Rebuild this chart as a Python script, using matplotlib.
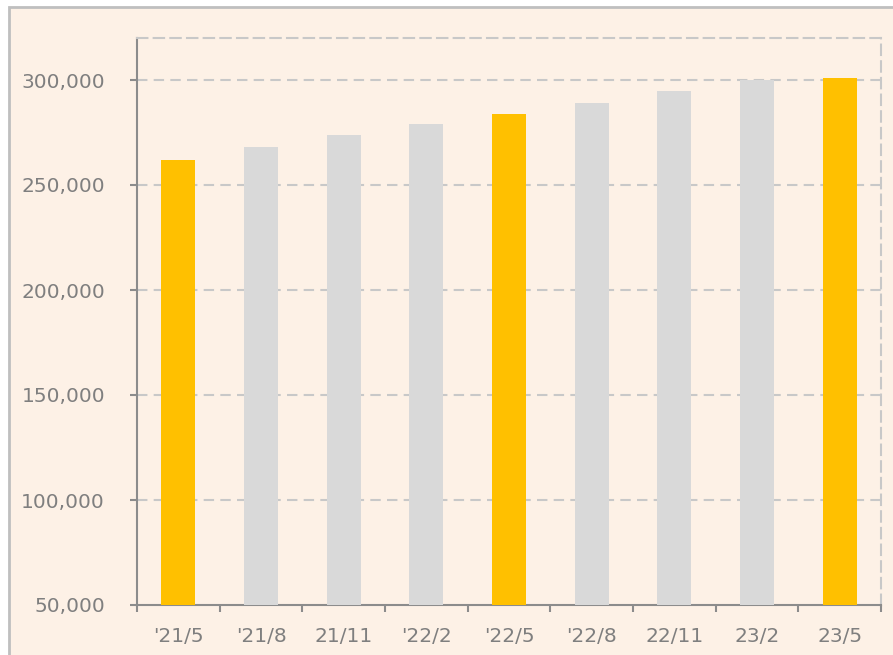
import matplotlib.pyplot as plt
from matplotlib.patches import Rectangle
from matplotlib.ticker import FuncFormatter, FixedLocator

# ── data ─────────────────────────────────────────────────────────────────────
periods = ["'21/5", "'21/8", "21/11", "'22/2", "'22/5", "'22/8", "22/11", "23/2", "23/5"]
values  = [262000, 268000, 274000, 279000, 284000, 289000, 295000, 300000, 301000]
highlight = [True, False, False, False, True, False, False, False, True]

# ── palette ──────────────────────────────────────────────────────────────────
BG     = "#FDF1E6"
ORANGE = "#FFC000"
GREY   = "#D9D9D9"
AXIS   = "#8C8C8C"
GRID   = "#C8C8C8"
TEXT   = "#7F7F7F"
FRAME  = "#BFBFBF"

W, H = 893, 655
fig = plt.figure(figsize=(W / 100, H / 100), dpi=100, facecolor="white")

# outer panel (top + left border only visible)
fig.add_artist(Rectangle((9 / W, -0.05), 1.2, (H - 7) / H + 0.05,
                         transform=fig.transFigure, fc=BG, ec=FRAME, lw=2, zorder=0))

ax = fig.add_axes([137 / W, (H - 605) / H, (881 - 137) / W, (605 - 38) / H])
ax.set_facecolor("none")

x = range(len(periods))
colors = [ORANGE if h else GREY for h in highlight]
ax.bar(x, values, width=0.41, color=colors, zorder=3)

ax.set_xlim(-0.5, len(periods) - 0.5)
ax.set_ylim(50000, 320000)

# y axis
ax.set_yticks([50000, 100000, 150000, 200000, 250000, 300000])
ax.yaxis.set_major_formatter(FuncFormatter(lambda v, p: f"{int(v):,}"))
ax.tick_params(axis="y", length=5, width=1.5, color=AXIS, labelcolor=TEXT,
               labelsize=14.5, pad=18)

# x axis: ticks at boundaries, labels at centres
ax.xaxis.set_major_locator(FixedLocator([i - 0.5 for i in range(len(periods) + 1)]))
ax.xaxis.set_major_formatter(FuncFormatter(lambda v, p: ""))
ax.xaxis.set_minor_locator(FixedLocator(list(x)))
ax.set_xticklabels(periods, minor=True)
ax.tick_params(axis="x", which="major", length=5, width=1.5, color=AXIS)
ax.tick_params(axis="x", which="minor", length=0, labelcolor=TEXT,
               labelsize=14.5, pad=16)

# grid
for v in [100000, 150000, 200000, 250000, 300000]:
    ax.axhline(v, color=GRID, lw=1.5, ls=(0, (5, 3)), zorder=1)

for side in ["left", "bottom"]:
    ax.spines[side].set_color(AXIS)
    ax.spines[side].set_linewidth(1.5)
for side in ["top", "right"]:
    ax.spines[side].set_color(GRID)
    ax.spines[side].set_linewidth(1.5)
    ax.spines[side].set_linestyle((0, (5, 3)))

plt.savefig("out.png", dpi=100, facecolor="white")
plt.close()
